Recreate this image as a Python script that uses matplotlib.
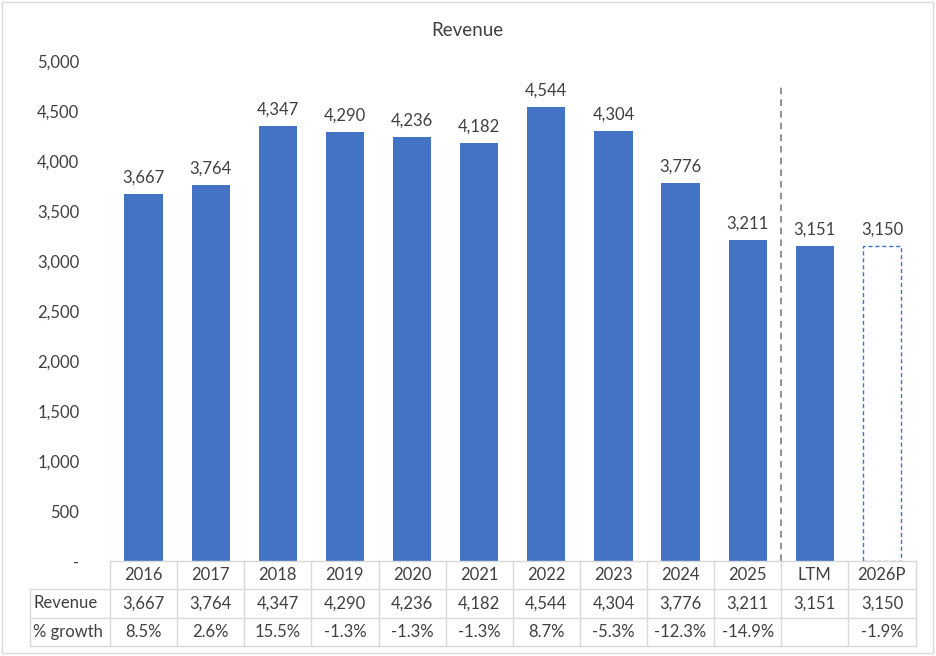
import matplotlib
matplotlib.use("Agg")
import matplotlib.pyplot as plt
from matplotlib.patches import Rectangle

categories = ["2016", "2017", "2018", "2019", "2020", "2021", "2022", "2023", "2024", "2025", "LTM", "2026P"]
revenue = [3667, 3764, 4347, 4290, 4236, 4182, 4544, 4304, 3776, 3211, 3151, 3150]
growth = ["8.5%", "2.6%", "15.5%", "-1.3%", "-1.3%", "-1.3%", "8.7%", "-5.3%", "-12.3%", "-14.9%", "", "-1.9%"]
projected = [False] * 11 + [True]
yticks = [0, 500, 1000, 1500, 2000, 2500, 3000, 3500, 4000, 4500, 5000]

plt.rcParams["font.family"] = ["Lato", "DejaVu Sans"]
TXT = "#404040"
BLUE = "#4472C4"
GRID = "#d9d9d9"
FS = 12

W, H = 936, 656
fig = plt.figure(figsize=(W / 100, H / 100), dpi=100)

def fx(px):
    return px / W

def fy(py):
    return 1 - py / H

x_left, x_right = 110, 915.5
y_top, y_bot = 61, 561
ax = fig.add_axes([fx(x_left), fy(y_bot), fx(x_right - x_left), (y_bot - y_top) / H])
n = len(categories)
xs = list(range(n))
ax.set_xlim(-0.5, n - 0.5)
ax.set_ylim(0, 5000)

for x, v, p in zip(xs, revenue, projected):
    if p:
        ax.bar(x, v, width=0.57, facecolor="white", edgecolor=BLUE, linestyle=(0, (3, 2)), linewidth=1.0)
    else:
        ax.bar(x, v, width=0.57, color=BLUE)
    ax.annotate(f"{v:,}", (x, v), xytext=(0, 6), textcoords="offset points",
                ha="center", va="bottom", fontsize=FS, color=TXT)

ax.plot([9.5, 9.5], [0, 4760], color="#7f7f7f", linestyle=(0, (4, 3)), linewidth=1.2)

ax.set_yticks(yticks)
ax.set_yticklabels(["-" if t == 0 else f"{t:,}" for t in yticks], fontsize=FS, color=TXT)
ax.tick_params(axis="y", length=0, pad=22)
ax.set_xticks([])
for s in ax.spines.values():
    s.set_visible(False)

fig.text(fx(467), fy(30), "Revenue", ha="center", va="center", fontsize=13.5, color=TXT)

# data table
col_w = (x_right - x_left) / n
tax = fig.add_axes([fx(30), fy(646), fx(x_right - 30), (646 - 561) / H])
lab_w = (x_left - 30) / col_w
tax.set_xlim(-0.5 - lab_w, n - 0.5)
tax.set_ylim(3, 0)
tax.axis("off")
lw = 1.0
tax.plot([-0.5, n - 0.5], [0, 0], color=GRID, lw=lw, clip_on=False)
for r in [1, 2, 3]:
    tax.plot([-0.5 - lab_w, n - 0.5], [r, r], color=GRID, lw=lw, clip_on=False)
tax.plot([-0.5 - lab_w, -0.5 - lab_w], [1, 3], color=GRID, lw=lw, clip_on=False)
for i in range(n + 1):
    tax.plot([i - 0.5, i - 0.5], [0, 3], color=GRID, lw=lw, clip_on=False)

for i, c in enumerate(categories):
    tax.text(i, 0.5, c, ha="center", va="center", fontsize=FS, color=TXT)
    tax.text(i, 1.5, f"{revenue[i]:,}", ha="center", va="center", fontsize=FS, color=TXT)
    tax.text(i, 2.5, growth[i], ha="center", va="center", fontsize=FS, color=TXT)
tax.text(-0.5 - lab_w + 0.05, 1.5, "Revenue", ha="left", va="center", fontsize=FS, color=TXT)
tax.text(-0.5 - lab_w + 0.05, 2.5, "% growth", ha="left", va="center", fontsize=FS, color=TXT)

fig.add_artist(Rectangle((fx(2), fy(653)), fx(931), (651) / H, transform=fig.transFigure,
                         fill=False, edgecolor=GRID, lw=1.0))

fig.savefig("out.png", dpi=100, facecolor="white")
